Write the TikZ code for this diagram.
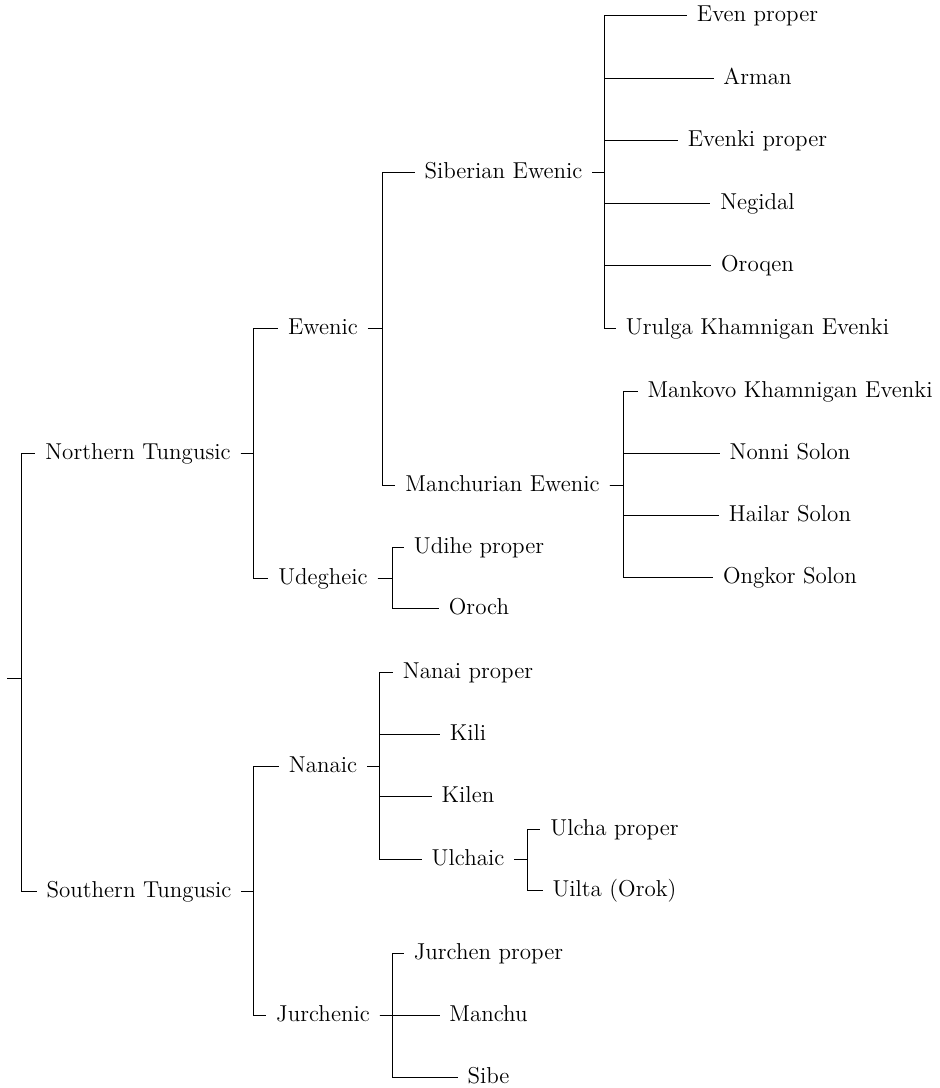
\documentclass[tikz,border=0pt]{standalone}
\begin{document}
\tikzset{
  lang/.style={inner xsep=4.75pt, inner ysep=0pt, text height=8.3pt, text depth=2pt,
    font=\fontsize{11.5}{14}\selectfont},
  branch/.style={line width=0.5pt, draw=black}
}
\begin{tikzpicture}[x=0.5pt,y=-0.5pt]
\useasboundingbox (0,0) rectangle (939,1088);

% ---- nodes ----
\coordinate (root) at (7,678);
\node[lang] (NT)  at (138,453)  {Northern Tungusic};
\node[lang] (ST)  at (139,891)  {Southern Tungusic};

\node[lang] (Ew)  at (323,328)  {Ewenic};
\node[lang] (Ud)  at (323,578)  {Udegheic};
\node[lang] (Nan) at (323,766)  {Nanaic};
\node[lang] (Jur) at (323,1015) {Jurchenic};

\node[lang] (Sib) at (503.5,172) {Siberian Ewenic};
\node[lang] (Man) at (502.5,485) {Manchurian Ewenic};

\node[lang] (EvenP)   at (757.5,15.5)  {Even proper};
\node[lang] (Arman)   at (757.5,78)    {Arman};
\node[lang] (EvenkiP) at (757.5,140.5) {Evenki proper};
\node[lang] (Negidal) at (757.5,203)   {Negidal};
\node[lang] (Oroqen)  at (757.5,265.5) {Oroqen};
\node[lang] (Urulga)  at (757.5,328)   {Urulga Khamnigan Evenki};

\node[lang] (Mankovo) at (790,391)   {Mankovo Khamnigan Evenki};
\node[lang] (Nonni)   at (790,453)   {Nonni Solon};
\node[lang] (Hailar)  at (790,515)   {Hailar Solon};
\node[lang] (Ongkor)  at (790,577.5) {Ongkor Solon};

\node[lang] (Udihe) at (479,547) {Udihe proper};
\node[lang] (Oroch) at (479,608) {Oroch};

\node[lang] (NanaiP) at (468,672)   {Nanai proper};
\node[lang] (Kili)   at (468,734)   {Kili};
\node[lang] (Kilen)  at (468,796.5) {Kilen};
\node[lang] (Ul)     at (468,859.5) {Ulchaic};

\node[lang] (UlchaP) at (614.5,829) {Ulcha proper};
\node[lang] (Uilta)  at (614.5,890) {Uilta (Orok)};

\node[lang] (JurP)   at (488.5,953)  {Jurchen proper};
\node[lang] (Manchu) at (488.5,1015) {Manchu};
\node[lang] (Sibe)   at (488.5,1077) {Sibe};

% ---- bar positions of each family ----
\coordinate (bRoot) at (21,678);
\coordinate (bNT)   at (253,453);
\coordinate (bST)   at (253,891);
\coordinate (bEw)   at (382,328);
\coordinate (bUd)   at (392,578);
\coordinate (bSib)  at (604,172);
\coordinate (bMan)  at (623,485);
\coordinate (bNan)  at (379,766);
\coordinate (bUl)   at (527,859.5);
\coordinate (bJur)  at (392,1015);

% ---- branches ----
\foreach \c in {NT,ST}
  \draw[branch] (root) -- (bRoot) |- (\c.west);
\foreach \c in {Ew,Ud}
  \draw[branch] (NT.east) -- (bNT) |- (\c.west);
\foreach \c in {Nan,Jur}
  \draw[branch] (ST.east) -- (bST) |- (\c.west);
\foreach \c in {Sib,Man}
  \draw[branch] (Ew.east) -- (bEw) |- (\c.west);
\foreach \c in {EvenP,Arman,EvenkiP,Negidal,Oroqen,Urulga}
  \draw[branch] (Sib.east) -- (bSib) |- (\c.west);
\foreach \c in {Mankovo,Nonni,Hailar,Ongkor}
  \draw[branch] (Man.east) -- (bMan) |- (\c.west);
\foreach \c in {Udihe,Oroch}
  \draw[branch] (Ud.east) -- (bUd) |- (\c.west);
\foreach \c in {NanaiP,Kili,Kilen,Ul}
  \draw[branch] (Nan.east) -- (bNan) |- (\c.west);
\foreach \c in {UlchaP,Uilta}
  \draw[branch] (Ul.east) -- (bUl) |- (\c.west);
\foreach \c in {JurP,Manchu,Sibe}
  \draw[branch] (Jur.east) -- (bJur) |- (\c.west);
\end{tikzpicture}
\end{document}
